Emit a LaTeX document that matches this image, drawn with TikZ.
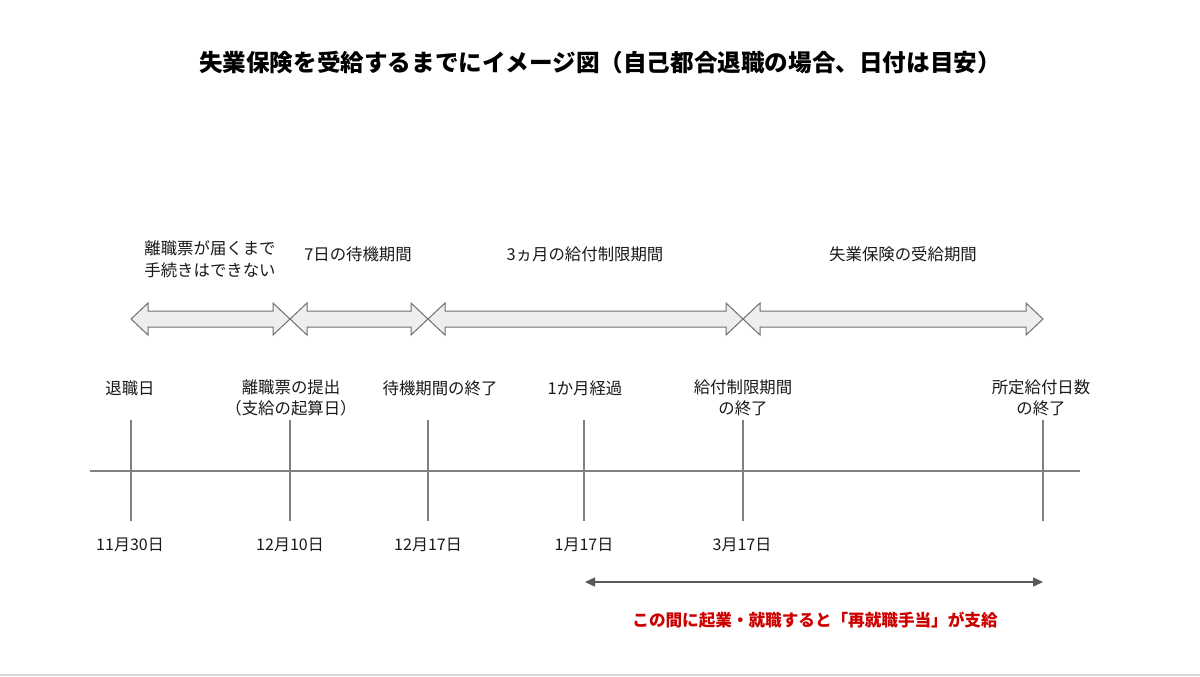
\documentclass[tikz,border=0pt]{standalone}
\usepackage{fontspec}
\setmainfont{Liberation Sans}
\newfontfamily\cjk{Noto Sans CJK JP}
\usetikzlibrary{arrows.meta}
\definecolor{linegray}{HTML}{808080}
\definecolor{arrowfill}{HTML}{EEEEEE}
\definecolor{arrowedge}{HTML}{707070}
\definecolor{redtext}{HTML}{CC0000}
\definecolor{txt}{HTML}{1A1A1A}
\tikzset{
  lbl/.style={font=\cjk\fontsize{8.2pt}{10.8pt}\selectfont, text=txt, align=center, inner sep=0pt},
  datelbl/.style={font=\cjk\fontsize{8pt}{10pt}\selectfont, text=txt, inner sep=0pt},
  tick/.style={draw=linegray, line width=0.7pt},
  blockarr/.style={draw=arrowedge, fill=arrowfill, line width=0.5pt, line join=miter},
}
\newcommand\blockarrow[2]{%
  \path[blockarr] (#1,319) -- ({#1+17},303) -- ({#1+17},311) -- ({#2-17},311) -- ({#2-17},303)
    -- (#2,319) -- ({#2-17},335) -- ({#2-17},327) -- ({#1+17},327) -- ({#1+17},335) -- cycle;}
\begin{document}
\begin{tikzpicture}[x=0.5pt,y=-0.5pt]
\useasboundingbox (0,0) rectangle (1200,676);
\fill[white] (0,0) rectangle (1200,676);
% bottom border line
\fill[black!16] (0,673.5) rectangle (1200,676);
% title
\node[font=\cjk\bfseries\fontsize{11.8pt}{14pt}\selectfont, inner sep=0pt] (title) at (600,63)
  {失業保険を受給するまでにイメージ図（自己都合退職の場合、日付は目安）};
% tick coordinates
\coordinate (t1) at (131,471);
\coordinate (t2) at (290,471);
\coordinate (t3) at (428,471);
\coordinate (t4) at (584,471);
\coordinate (t5) at (743,471);
\coordinate (t6) at (1043,471);
% period labels
\node[lbl] (p1) at (210,259) {離職票が届くまで\\手続きはできない};
\node[lbl] (p2) at (358,254) {7日の待機期間};
\node[lbl] (p3) at (585,254) {3ヵ月の給付制限期間};
\node[lbl] (p4) at (903,254) {失業保険の受給期間};
% block arrows
\blockarrow{131}{290}
\blockarrow{290}{428}
\blockarrow{428}{743}
\blockarrow{743}{1043}
% event labels
\node[lbl] (e1) at (130,388) {退職日};
\node[lbl,anchor=north] (e2) at (291,379) {離職票の提出\\（支給の起算日）};
\node[lbl] (e3) at (440,388) {待機期間の終了};
\node[lbl] (e4) at (585,388) {1か月経過};
\node[lbl,anchor=north] (e5) at (743,379) {給付制限期間\\の終了};
\node[lbl,anchor=north] (e6) at (1041,379) {所定給付日数\\の終了};
% timeline
\coordinate (tlL) at (90,471);
\coordinate (tlR) at (1080,471);
\draw[tick] (tlL) -- (tlR);
\foreach \t in {t1,t2,t3,t4,t5,t6}{
  \draw[tick] ([yshift=25.5pt]\t) -- ([yshift=-25pt]\t);
}
% dates
\node[datelbl] (d1) at (130,545) {11月30日};
\node[datelbl] (d2) at (290,545) {12月10日};
\node[datelbl] (d3) at (428,545) {12月17日};
\node[datelbl] (d4) at (584,545) {1月17日};
\node[datelbl] (d5) at (742,545) {3月17日};
% bottom arrow
\coordinate (bL) at (585,582);
\coordinate (bR) at (1043,582);
\draw[draw=black!65, line width=0.7pt, {Triangle[length=5pt,width=4.5pt]}-{Triangle[length=5pt,width=4.5pt]}] (bL) -- (bR);
\node[font=\cjk\bfseries\fontsize{8.3pt}{10pt}\selectfont, text=redtext, inner sep=0pt] (note) at (815,620)
  {この間に起業・就職すると「再就職手当」が支給};
\end{tikzpicture}
\end{document}
